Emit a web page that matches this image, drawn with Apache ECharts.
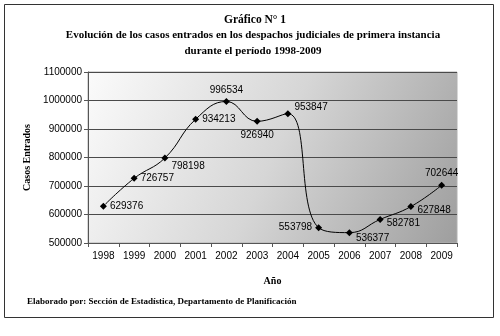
<!DOCTYPE html>
<html>
<head>
<meta charset="utf-8">
<script src="https://cdn.jsdelivr.net/npm/echarts@6/dist/echarts.min.js"></script>
<style>
  html, body { margin: 0; padding: 0; background: #ffffff; }
  #chart { width: 500px; height: 336px; }
</style>
</head>
<body>
<div id="chart"></div>
<script>
// Cases filed per year in first-instance courts
const years = ['1998','1999','2000','2001','2002','2003','2004','2005','2006','2007','2008','2009'];
const casos = [629376, 726757, 798198, 934213, 996534, 926940, 953847, 553798, 536377, 582781, 627848, 702644];
const yTicks = { min: 500000, max: 1100000, step: 100000 };

// Where each value label sits relative to its marker
const labelSpots = [
  { position: 'right', offset: [0, 0] },
  { position: 'right', offset: [0, 0] },
  { position: 'right', offset: [0, 8] },
  { position: 'right', offset: [0, 0] },
  { position: 'top', offset: [0, 0] },
  { position: 'bottom', offset: [0, 2] },
  { position: 'right', offset: [0, -6] },
  { position: 'left', offset: [0, 0] },
  { position: 'right', offset: [0, 6] },
  { position: 'right', offset: [0, 4] },
  { position: 'right', offset: [0, 4] },
  { position: 'top', offset: [0, 0] }
];

const sans = '"Liberation Sans", Arial, sans-serif';
const serif = '"Liberation Serif", "Times New Roman", serif';

const chart = echarts.init(document.getElementById('chart'), null, { renderer: 'canvas' });

chart.setOption({
  animation: false,
  backgroundColor: '#ffffff',
  title: [
    { text: 'Gráfico N° 1', left: 250, top: 9, textAlign: 'center',
      textStyle: { fontFamily: serif, fontWeight: 'bold', fontSize: 11.5, color: '#000' } },
    { text: 'Evolución de los casos entrados en los despachos judiciales de primera instancia', left: 248, top: 25, textAlign: 'center',
      textStyle: { fontFamily: serif, fontWeight: 'bold', fontSize: 11, color: '#000' } },
    { text: 'durante el período 1998-2009', left: 248, top: 41, textAlign: 'center',
      textStyle: { fontFamily: serif, fontWeight: 'bold', fontSize: 11, color: '#000' } },
    { text: 'Elaborado por: Sección de Estadística, Departamento de Planificación', left: 22, top: 292,
      textStyle: { fontFamily: serif, fontWeight: 'bold', fontSize: 9, color: '#000' } }
  ],
  graphic: [
    { type: 'rect', shape: { x: 4.5, y: 4.5, width: 489, height: 313 },
      style: { fill: 'none', stroke: '#333', lineWidth: 1 }, z: 10 }
  ],
  grid: {
    left: 88, top: 72, right: 43, bottom: 93,
    show: true,
    borderColor: '#b0b0b0',
    borderWidth: 1,
    backgroundColor: new echarts.graphic.LinearGradient(0, 0, 1, 1, [
      { offset: 0, color: '#fbfbfb' },
      { offset: 0.5, color: '#d6d6d6' },
      { offset: 1, color: '#9e9e9e' }
    ])
  },
  xAxis: {
    type: 'category',
    data: years,
    boundaryGap: true,
    name: 'Año',
    nameLocation: 'middle',
    nameGap: 33,
    nameTextStyle: { fontFamily: serif, fontWeight: 'bold', fontSize: 10, color: '#000' },
    axisLine: { lineStyle: { color: '#555', width: 1 } },
    axisTick: { show: true, length: 4, lineStyle: { color: '#555' } },
    axisLabel: { fontFamily: sans, fontSize: 10, color: '#000', margin: 8 }
  },
  yAxis: {
    type: 'value',
    min: yTicks.min,
    max: yTicks.max,
    interval: yTicks.step,
    name: 'Casos Entrados',
    nameLocation: 'middle',
    nameGap: 52,
    nameRotate: 90,
    nameTextStyle: { fontFamily: serif, fontWeight: 'bold', fontSize: 10, color: '#000' },
    axisLine: { show: true, lineStyle: { color: '#555', width: 1 } },
    axisTick: { show: true, length: 4, lineStyle: { color: '#555' } },
    axisLabel: { fontFamily: sans, fontSize: 10, color: '#000', margin: 6, formatter: v => String(v) },
    splitLine: { lineStyle: { color: '#4a4a4a', width: 1 } }
  },
  series: [{
    type: 'line',
    smooth: 0.45,
    data: casos.map((v, i) => ({
      value: v,
      label: { position: labelSpots[i].position, offset: labelSpots[i].offset }
    })),
    symbol: 'diamond',
    symbolSize: 7,
    itemStyle: { color: '#000' },
    lineStyle: { color: '#000', width: 1 },
    label: {
      show: true,
      fontFamily: sans,
      fontSize: 10,
      color: '#000',
      distance: 3
    },
    z: 5
  }]
});
</script>
</body>
</html>
